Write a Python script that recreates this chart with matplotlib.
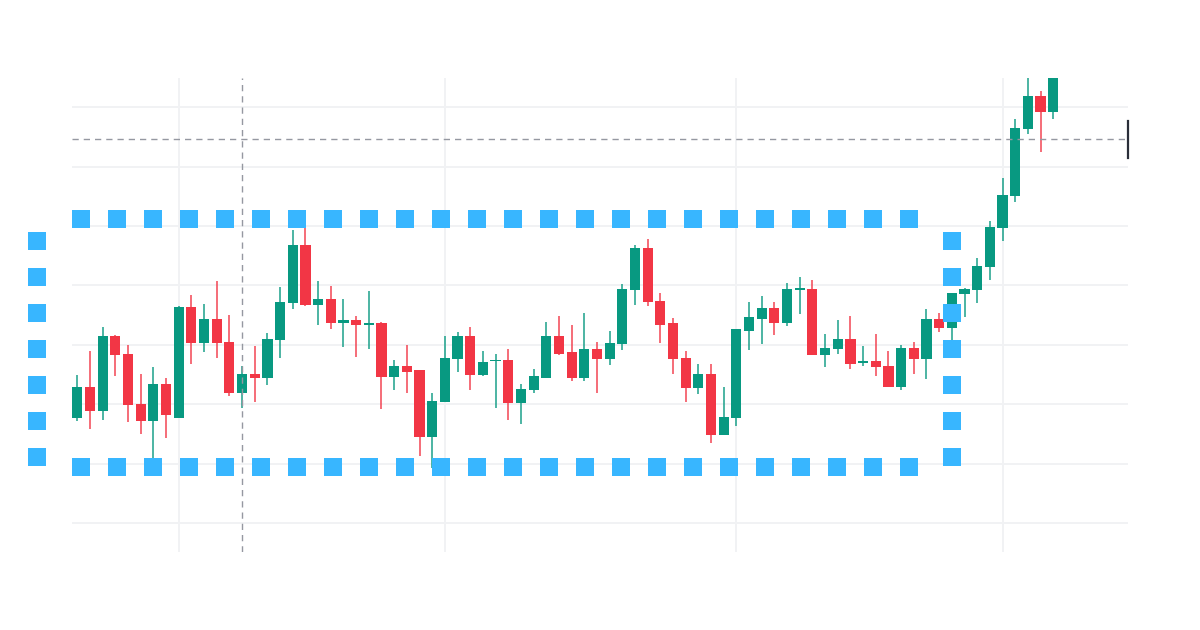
import matplotlib
matplotlib.use("Agg")
import matplotlib.pyplot as plt
import numpy as np

# OHLC values (arbitrary price scale, no labels shown)
opens = [98.81, 101.42, 99.43, 105.77, 104.25, 100.04, 98.56, 101.70, 98.81, 108.18,
         105.15, 107.17, 105.26, 100.94, 102.57, 102.23, 105.43, 108.49, 113.43, 108.35,
         108.83, 106.86, 107.06, 106.69, 106.81, 102.27, 103.24, 102.85, 97.27, 100.19,
         103.78, 105.77, 102.48, 103.61, 103.72, 100.08, 101.22, 102.23, 105.77, 104.37,
         102.23, 104.62, 103.78, 105.04, 109.61, 113.15, 108.71, 106.81, 103.86, 101.34,
         102.57, 97.41, 98.81, 106.19, 107.20, 108.07, 106.81, 109.64, 109.72, 104.14,
         104.65, 105.51, 103.49, 103.61, 103.24, 101.47, 104.76, 103.81, 107.17, 106.44,
         109.25, 109.61, 111.53, 114.86, 117.53, 123.14, 125.95, 124.57]
highs = [102.46, 104.50, 106.52, 105.80, 104.98, 102.57, 103.11, 102.18, 108.29, 109.22,
         108.46, 110.35, 107.54, 103.24, 104.87, 106.02, 109.84, 114.67, 114.94, 110.35,
         109.98, 108.83, 107.43, 109.50, 106.92, 103.72, 105.01, 102.85, 100.92, 105.77,
         106.05, 106.52, 104.50, 104.25, 104.65, 101.70, 102.96, 106.92, 107.43, 106.67,
         107.68, 105.26, 106.16, 110.09, 113.40, 113.93, 109.34, 107.28, 104.50, 103.36,
         103.36, 101.45, 106.31, 108.60, 109.08, 108.60, 110.23, 110.73, 110.48, 105.91,
         107.06, 107.43, 104.87, 105.91, 104.50, 105.01, 105.26, 107.99, 107.65, 109.34,
         109.81, 112.28, 115.45, 119.02, 123.98, 127.44, 126.39, 128.90]
lows = [98.59, 97.91, 98.67, 102.37, 98.53, 97.52, 95.30, 97.13, 98.81, 103.38,
        104.40, 103.92, 100.72, 99.68, 100.16, 101.62, 103.92, 107.99, 108.24, 106.69,
        106.31, 104.79, 104.00, 104.67, 99.57, 101.22, 100.97, 95.62, 94.60, 100.19,
        102.74, 101.22, 102.37, 99.68, 98.67, 98.31, 100.97, 102.23, 104.12, 101.98,
        101.98, 100.97, 103.28, 104.54, 108.35, 108.24, 105.18, 102.52, 100.19, 100.83,
        96.76, 97.41, 98.17, 104.54, 105.04, 105.80, 106.58, 107.57, 104.14, 103.13,
        104.25, 102.99, 103.24, 102.37, 101.47, 101.20, 102.50, 102.12, 106.05, 105.41,
        107.34, 108.49, 110.48, 113.71, 117.02, 122.75, 121.23, 124.01]
closes = [101.42, 99.43, 105.77, 104.14, 99.96, 98.56, 101.70, 99.07, 108.21, 105.15,
          107.17, 105.15, 100.94, 102.57, 102.23, 105.51, 108.58, 113.43, 108.33, 108.83,
          106.84, 107.06, 106.69, 106.81, 102.27, 103.24, 102.74, 97.27, 100.30, 103.86,
          105.77, 102.48, 103.58, 103.72, 100.08, 101.31, 102.35, 105.77, 104.25, 102.23,
          104.62, 103.78, 105.13, 109.72, 113.15, 108.63, 106.69, 103.78, 101.34, 102.57,
          97.41, 98.90, 106.31, 107.32, 108.07, 106.81, 109.72, 109.76, 104.14, 104.76,
          105.51, 103.38, 103.61, 103.13, 101.47, 104.76, 103.78, 107.17, 106.44, 109.34,
          109.72, 111.63, 114.94, 117.64, 123.23, 125.95, 124.57, 128.20]

grid_prices = [90, 95, 100, 105, 110, 115, 120, 125]
grid_bars = [8, 29, 52, 73]          # bars where the time grid falls
cross_bar = 13                        # crosshair position
cross_price = 122.30

# range box drawn over the chart
box_left, box_right = -3.18, 69.05
box_bottom, box_top = 94.74, 115.59
box_h_end = 66.38                     # where the top/bottom dotted rows stop
box_v_start = 114.47                  # where the side dotted columns start

up_col = "#089981"
down_col = "#f23645"
grid_col = "#f1f2f4"
cross_col = "#9598a1"
box_col = "#38b6ff"

plt.rcParams["lines.scale_dashes"] = False

fig = plt.figure(figsize=(12, 6.3), dpi=100)
ax = fig.add_axes([72 / 1200, 78.3 / 630, 1056 / 1200, 473.7 / 630])
ax.set_xlim(-0.42, 82.9)
ax.set_ylim(87.58, 127.46)
for s in ax.spines.values():
    s.set_visible(False)
ax.set_xticks([])
ax.set_yticks([])

for p in grid_prices:
    ax.axhline(p, color=grid_col, lw=1.4, zorder=0)
for b in grid_bars:
    ax.axvline(b, color=grid_col, lw=1.4, zorder=0)

o = np.array(opens)
h = np.array(highs)
l = np.array(lows)
c = np.array(closes)
x = np.arange(len(o))
cols = np.where(c >= o, up_col, down_col)

ax.vlines(x, l, h, colors=cols, lw=1.2, alpha=0.85, zorder=2)
body_low = np.minimum(o, c)
body_h = np.maximum(np.abs(c - o), 0.12)
ax.bar(x, body_h, bottom=body_low, width=0.8, color=cols, edgecolor="none", zorder=3)

# crosshair
ax.axvline(cross_bar, color=cross_col, lw=1.0, dashes=(4.5, 3.6), zorder=4)
ax.axhline(cross_price, color=cross_col, lw=1.0, dashes=(4.5, 3.6), zorder=4)
ax.plot([82.9, 82.9], [123.87, 120.75], color="#2a2e39", lw=1.6, clip_on=False, zorder=6)

# dotted range box
sq = 18 * 72 / 100  # 18 px squares
for yy in (box_top, box_bottom):
    ax.plot([-0.42, box_h_end], [yy, yy], color=box_col, lw=sq,
            dashes=(sq, sq), dash_capstyle="butt", clip_on=False, zorder=5)
for xx in (box_left, box_right):
    ax.plot([xx, xx], [box_v_start, box_bottom], color=box_col, lw=sq,
            dashes=(sq, sq), dash_capstyle="butt", clip_on=False, zorder=5)

fig.savefig("out.png", dpi=100, facecolor="white")
